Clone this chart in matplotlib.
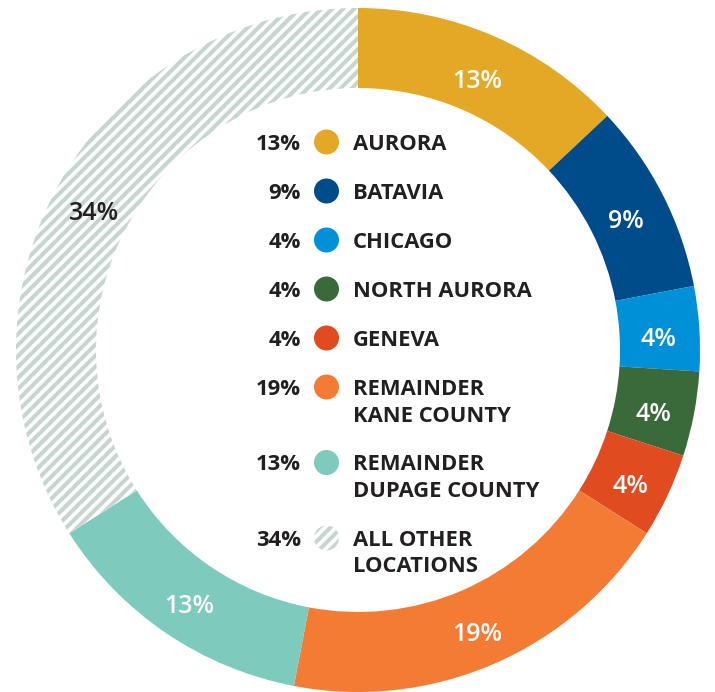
import numpy as np
import matplotlib
matplotlib.use("Agg")
from matplotlib import pyplot as plt
from matplotlib.patches import Circle

# data
labels = ["AURORA", "BATAVIA", "CHICAGO", "NORTH AURORA", "GENEVA",
          "REMAINDER\nKANE COUNTY", "REMAINDER\nDUPAGE COUNTY",
          "ALL OTHER\nLOCATIONS"]
values = [13, 9, 4, 4, 4, 19, 13, 34]
colors = ["#E3A826", "#004C8A", "#0090D8", "#3B6A3A", "#E04B1F",
          "#F37B33", "#7ECBBE", "white"]
HATCH_COLOR = "#C7D5CF"
DARK = "#231F20"

DPI = 132
W, H = 715, 692
CX, CY, R = 358, 350, 342          # pixel centre / radius of donut


def px(x, y):
    # pixel (from top-left) -> data coords of the pie axes
    return (x - CX) / R, (CY - y) / R


def pt(pixels):
    return pixels * 72 / DPI


plt.rcParams['hatch.linewidth'] = 2.2
plt.rcParams['hatch.color'] = HATCH_COLOR

fig = plt.figure(figsize=(W / DPI, H / DPI), dpi=DPI)
ax = fig.add_axes([(CX - R) / W, (H - CY - R) / H, 2 * R / W, 2 * R / H])

wedges, texts, autotexts = ax.pie(
    values, colors=colors, startangle=90, counterclock=False, radius=1,
    wedgeprops=dict(width=80 / R, linewidth=0), autopct='%d%%',
    pctdistance=0.88,
    textprops=dict(color="white", fontsize=pt(25), family="Open Sans",
                   fontweight="semibold"))
wedges[-1].set_hatch("////")
wedges[-1].set_edgecolor(HATCH_COLOR)
autotexts[-1].set_color(DARK)
for t in autotexts:
    x0, y0 = t.get_position()
    t.set_position((x0, y0 - 8 / R))
ax.set_xlim(-1, 1)
ax.set_ylim(-1, 1)
ax.axis("off")

# legend in the hole
FS = pt(22)
y = 142
for lab, val, col in zip(labels, values, colors):
    xd, yd = px(301, y + 8)
    ax.text(xd, yd, f"{val}%", ha="right", va="baseline", color=DARK,
            fontsize=FS, family="Open Sans", fontweight="bold")
    cx, cy = px(326.5, y)
    if col == "white":
        ax.add_patch(Circle((cx, cy), 12.5 / R, facecolor="white",
                            edgecolor=HATCH_COLOR, linewidth=0, hatch="////"))
    else:
        ax.add_patch(Circle((cx, cy), 12.5 / R, color=col, linewidth=0))
    lines = lab.split("\n")
    for k, line in enumerate(lines):
        xd, yd = px(353, y + 8 + 26.5 * k)
        ax.text(xd, yd, line, ha="left", va="baseline", color=DARK,
                fontsize=FS, family="Open Sans", fontweight="bold")
    y += 49 + 26.5 * (len(lines) - 1)

fig.savefig("out.png", dpi=DPI)
